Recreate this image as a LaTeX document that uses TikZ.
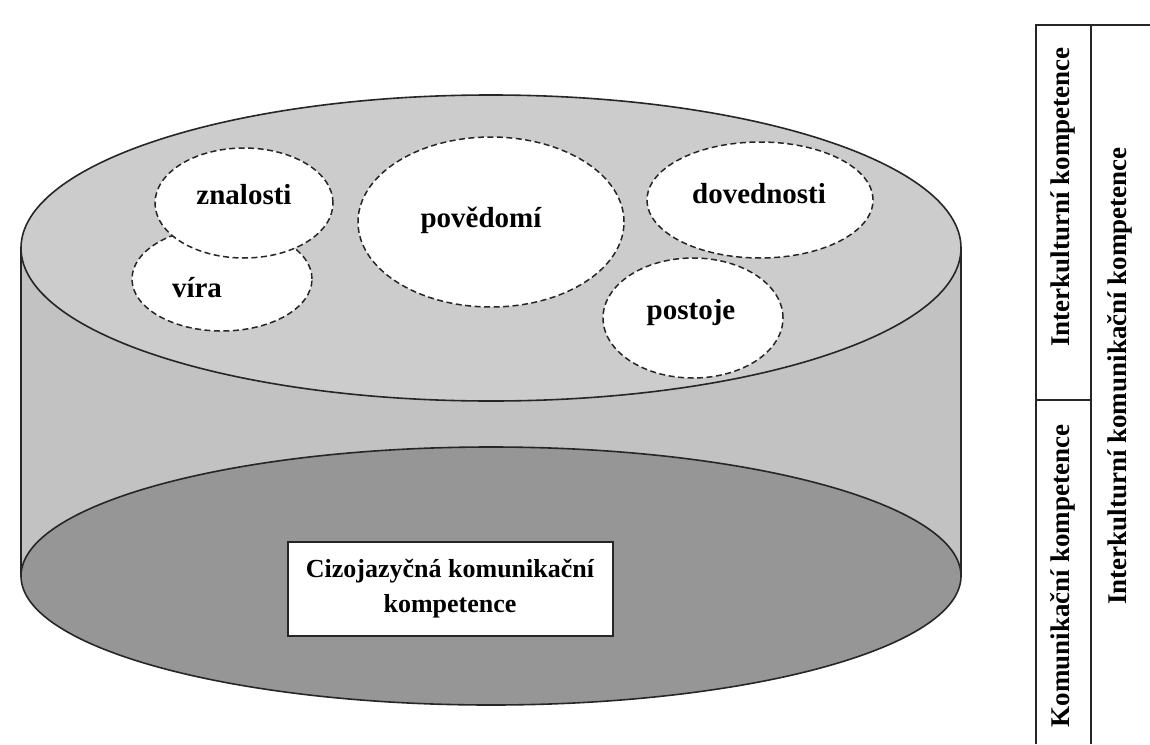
\documentclass[tikz,border=0pt]{standalone}
\usepackage{fontspec}
\setmainfont{Liberation Serif}
\usetikzlibrary{positioning}
\definecolor{topgray}{gray}{0.80}
\definecolor{sidegray}{gray}{0.76}
\definecolor{basegray}{gray}{0.59}
\tikzset{
  rim/.style={draw=black!85, line width=1.6pt},
  bubble/.style={draw=black!85, fill=white, line width=1.5pt, dash pattern=on 6pt off 3.5pt},
  label/.style={font=\fontsize{29}{33}\selectfont\bfseries, inner sep=0pt},
  boxtext/.style={draw=black!85, fill=white, line width=2pt, align=center, minimum width=325pt, minimum height=94pt, font=\fontsize{26}{35}\selectfont\bfseries},
  cell/.style={font=\fontsize{27}{30}\selectfont\bfseries, rotate=90, inner sep=0pt},
  grid/.style={draw=black!85, line width=1.8pt}
}
\begin{document}
\begin{tikzpicture}[x=1pt, y=-1pt]
    \useasboundingbox (0,0) rectangle (1150,744);
    % cylinder
    \fill[sidegray] (21,248) rectangle (961,576);
    \draw[rim] (21,248) -- (21,576);
    \draw[rim] (961,248) -- (961,576);
    \draw[rim, fill=basegray] (491,576) ellipse (470pt and 129pt);
    \draw[rim, fill=topgray] (491,248) ellipse (470pt and 153pt);
    % bubbles on the top face
    \draw[bubble] (222,279) ellipse (90pt and 52pt);
    \draw[bubble] (244,203) ellipse (89pt and 55pt);
    \draw[bubble] (491,222) ellipse (133pt and 85pt);
    \draw[bubble] (760,200) ellipse (113pt and 58pt);
    \draw[bubble] (693,318) ellipse (90pt and 60pt);
    \node[label] (znalosti) at (244,195) {znalosti};
    \node[label] (vira) at (197,288) {víra};
    \node[label] (povedomi) at (481,220) {povědomí};
    \node[label] (dovednosti) at (759,194) {dovednosti};
    \node[label] (postoje) at (691,313) {postoje};
    % base label
    \node[boxtext] (ckk) at (450,589) {Cizojazyčná komunikační\\kompetence};
    % table on the right
    \draw[grid] (1150,25) -- (1036,25) -- (1036,744);
    \draw[grid] (1091,25) -- (1091,744);
    \draw[grid] (1036,400) -- (1091,400);
    \node[cell] (ik) at (1063,197) {Interkulturní kompetence};
    \node[cell] (kk) at (1063,576) {Komunikační kompetence};
    \node[cell] (ikk) at (1120,376) {Interkulturní komunikační kompetence};
\end{tikzpicture}
\end{document}
